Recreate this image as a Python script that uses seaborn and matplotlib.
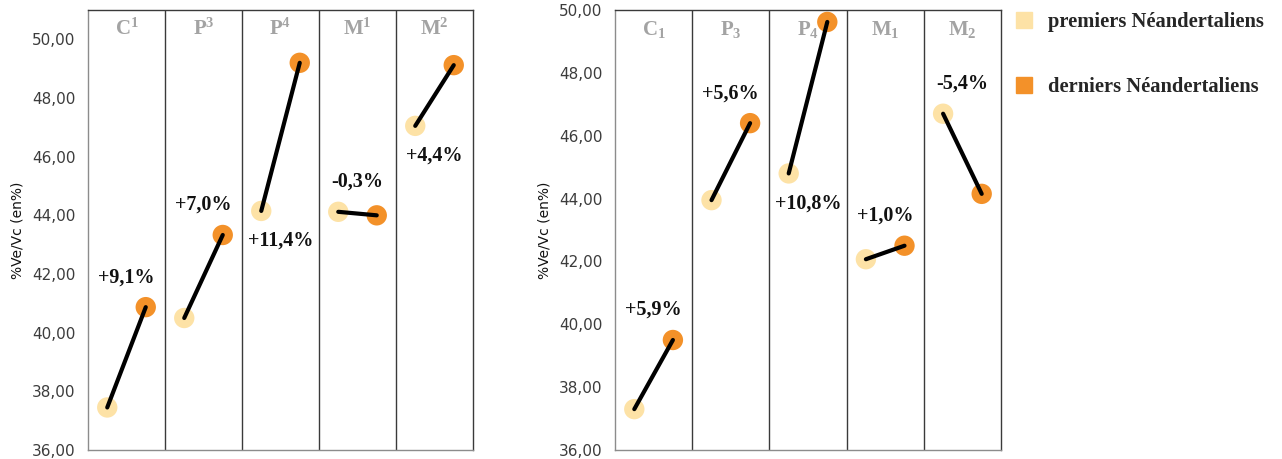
import matplotlib
matplotlib.use('Agg')
import matplotlib.pyplot as plt
import matplotlib.transforms as mtrans
from matplotlib.lines import Line2D
from matplotlib.ticker import FuncFormatter
from matplotlib.font_manager import FontProperties
import seaborn as sns
import pandas as pd

# ---------------- data ----------------
upper_teeth = [r'$\mathbf{C}^{\mathbf{1}}$', r'$\mathbf{P}^{\mathbf{3}}$', r'$\mathbf{P}^{\mathbf{4}}$',
               r'$\mathbf{M}^{\mathbf{1}}$', r'$\mathbf{M}^{\mathbf{2}}$']
upper_early = [37.45, 40.50, 44.15, 44.12, 47.05]
upper_late = [40.87, 43.33, 49.20, 44.00, 49.12]
upper_change = ['+9,1%', '+7,0%', '+11,4%', '-0,3%', '+4,4%']

lower_teeth = [r'$\mathbf{C}_{\mathbf{1}}$', r'$\mathbf{P}_{\mathbf{3}}$', r'$\mathbf{P}_{\mathbf{4}}$',
               r'$\mathbf{M}_{\mathbf{1}}$', r'$\mathbf{M}_{\mathbf{2}}$']
lower_early = [37.30, 43.95, 44.80, 42.07, 46.70]
lower_late = [39.50, 46.40, 49.62, 42.50, 44.15]
lower_change = ['+5,9%', '+5,6%', '+10,8%', '+1,0%', '-5,4%']

groups = ['premiers Néandertaliens', 'derniers Néandertaliens']
y_ticks = [36, 38, 40, 42, 44, 46, 48, 50]
y_label = '%Ve/Vc (en%)'

# ---------------- style ----------------
sns.set_style('white')
plt.rcParams['font.family'] = ['DejaVu Sans']
plt.rcParams['mathtext.fontset'] = 'custom'
plt.rcParams['mathtext.rm'] = 'Liberation Serif'
plt.rcParams['mathtext.bf'] = 'Liberation Serif:bold'
plt.rcParams['mathtext.it'] = 'Liberation Serif:italic'
SERIF = ['Liberation Serif', 'DejaVu Serif']
C_EARLY = '#FDE2A6'
C_LATE = '#F39129'
palette = {groups[0]: C_EARLY, groups[1]: C_LATE}
upper_place = ['above', 'above', 'below', 'above', 'below']
lower_place = ['above', 'above', 'below', 'above', 'above']

W, H = 1282, 459
fig = plt.figure(figsize=(W / 100, H / 100), dpi=100)
ax1 = fig.add_axes([88 / W, 1 - 450 / H, (473 - 88) / W, 440 / H])
ax2 = fig.add_axes([615 / W, 1 - 450 / H, (1001 - 615) / W, 440 / H])


def long_frame(teeth, early, late):
    rows = []
    for i, t in enumerate(teeth):
        rows.append(dict(tooth=t, group=groups[0], value=early[i], x=i - 0.25))
        rows.append(dict(tooth=t, group=groups[1], value=late[i], x=i + 0.25))
    return pd.DataFrame(rows)


def draw(ax, teeth, early, late, change, place, ymax, header_y):
    df = long_frame(teeth, early, late)
    sns.scatterplot(data=df, x='x', y='value', hue='group', palette=palette,
                    s=215, edgecolor='none', legend=False, ax=ax, zorder=2)
    sns.lineplot(data=df, x='x', y='value', units='tooth', estimator=None,
                 sort=False, color='black', lw=3, legend=False, ax=ax, zorder=3)
    ax.set_xlim(-0.5, len(teeth) - 0.5)
    ax.set_ylim(36, ymax)
    for i in range(1, len(teeth)):
        ax.axvline(i - 0.5, color='#3a3a3a', lw=1.0, zorder=1)
    for side in ['top', 'right']:
        ax.spines[side].set_color('#3a3a3a')
        ax.spines[side].set_linewidth(1.0)
    for side in ['left', 'bottom']:
        ax.spines[side].set_color('#8c8c8c')
        ax.spines[side].set_linewidth(1.0)
    ax.set_yticks(y_ticks)
    ax.yaxis.set_major_formatter(FuncFormatter(lambda v, p: f'{v:.2f}'.replace('.', ',')))
    ax.tick_params(axis='y', length=0, labelsize=11, labelcolor='#3c3c3c', pad=9)
    ax.set_xticks(range(len(teeth)))
    ax.set_xticklabels([''] * len(teeth))
    ax.tick_params(axis='x', length=4, color='#8c8c8c', direction='out')
    ax.set_xlabel('')
    ax.set_ylabel(y_label, fontsize=10, color='#111111', labelpad=5)
    trans = mtrans.blended_transform_factory(ax.transData, ax.transAxes)
    for i, t in enumerate(teeth):
        ax.text(i, header_y, t, transform=trans, ha='center', va='center',
                fontsize=15, color='#a3a3a3')
        if place[i] == 'above':
            yv, dy = max(early[i], late[i]), 30
        else:
            yv, dy = min(early[i], late[i]), -30
        ax.annotate(change[i], xy=(i, yv), xytext=(0, dy), textcoords='offset pixels',
                    ha='center', va='center', family=SERIF, weight='bold',
                    fontsize=14.5, color='#111111', zorder=4)


draw(ax1, upper_teeth, upper_early, upper_late, upper_change, upper_place, 51, 0.958)
draw(ax2, lower_teeth, lower_early, lower_late, lower_change, lower_place, 50, 0.955)

handles = [Line2D([], [], marker='s', ls='', color=palette[g], markersize=12) for g in groups]
fig.legend(handles=handles, labels=groups, loc='upper left',
           bbox_to_anchor=(1005 / W, 1 - 4 / H), frameon=False,
           prop=FontProperties(family='Liberation Serif', weight='bold', size=14.8),
           labelspacing=2.2, handletextpad=0.7, handlelength=1.0, borderaxespad=0)

fig.savefig('out.png', dpi=100)
